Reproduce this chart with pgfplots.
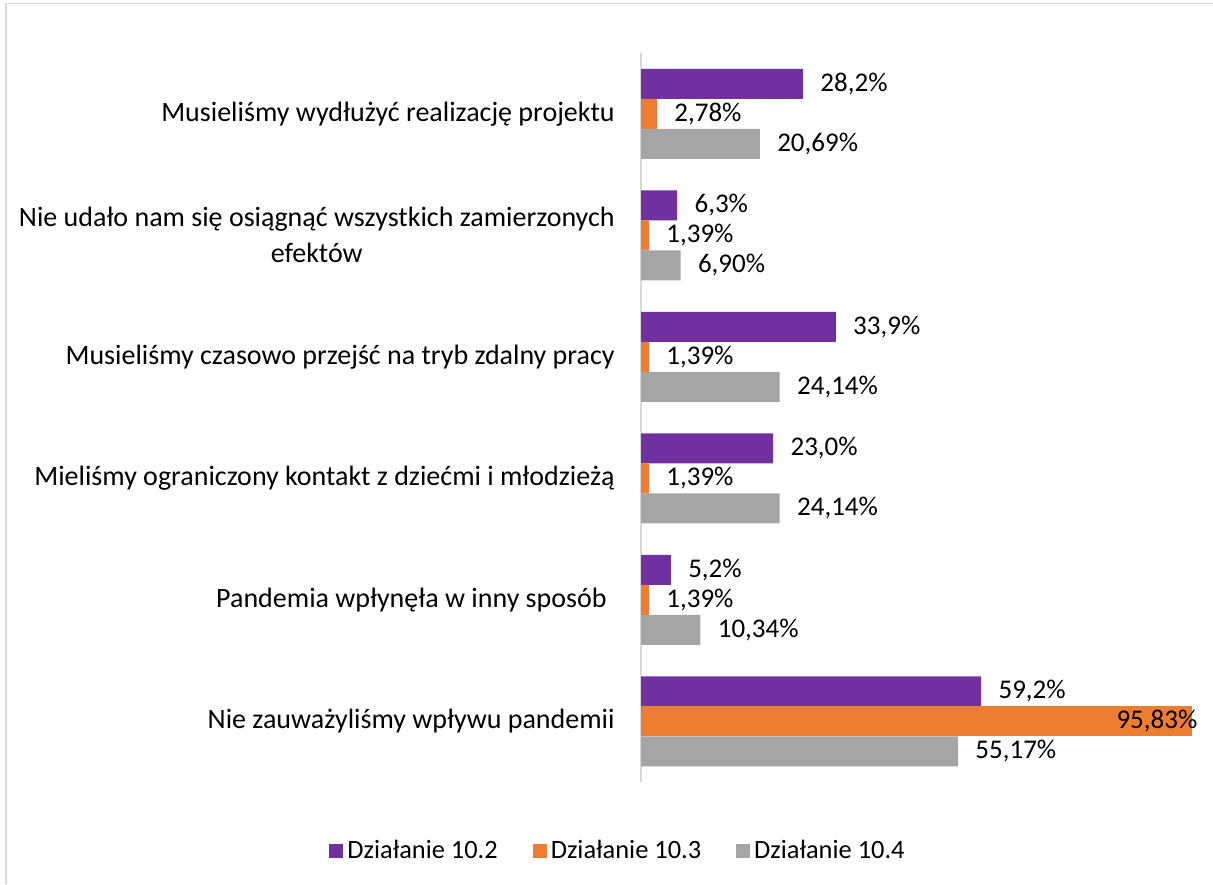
\documentclass[border=0pt]{standalone}
\usepackage{pgfplots}
\pgfplotsset{compat=1.18}
\usepackage{fontspec}
\setmainfont{Carlito}
\definecolor{cpurple}{HTML}{7030A0}
\definecolor{corange}{HTML}{ED7D31}
\definecolor{cgray}{HTML}{A5A5A5}
\definecolor{caxis}{HTML}{D9D9D9}
\begin{document}
\begin{tikzpicture}[x=1pt,y=1pt]
\useasboundingbox (0,0) rectangle (606.5,-442);
\draw[color=caxis, line width=0.9pt] (3,-442) -- (3,-1.75) -- (606.5,-1.75);
\begin{axis}[
  at={(320.5pt,-26.5pt)}, anchor=north west,
  width=277pt, height=364.5pt, scale only axis,
  xbar, bar width=15pt,
  xmin=0, xmax=96.4, ymin=-0.5, ymax=5.5,
  axis x line=none, axis y line*=left,
  y axis line style={draw=caxis, line width=1pt, -},
  ytick={0,1,2,3,4,5},
  yticklabels={Nie zauważyliśmy wpływu pandemii,
    {Pandemia wpłynęła w inny sposób\hspace{4pt}},
    Mieliśmy ograniczony kontakt z dziećmi i młodzieżą,
    Musieliśmy czasowo przejść na tryb zdalny pracy,
    {Nie udało nam się osiągnąć wszystkich zamierzonych\hspace{2pt}\\efektów},
    Musieliśmy wydłużyć realizację projektu},
  ytick style={draw=none},
  major tick length=0pt,
  yticklabel style={align=center, inner sep=0pt, xshift=-13pt, font=\fontsize{14pt}{18pt}\selectfont, text=black},
  point meta=explicit symbolic,
  nodes near coords,
  every node near coord/.append style={anchor=west, inner sep=0pt, xshift=8.5pt, font=\fontsize{13.5pt}{15pt}\selectfont, text=black},
  legend columns=3,
  legend style={at={(-0.0397,-0.0947)}, anchor=center, draw=none, fill=none,
    font=\fontsize{13.2pt}{15pt}\selectfont,
    /tikz/every even column/.append style={column sep=15.5pt}},
  myleg/.style={legend image code/.code={\fill[##1] (-2pt,-3.5pt) rectangle (5pt,3.5pt);}},
]
\addplot[fill=cpurple, draw=none, bar shift=15pt, myleg] coordinates {
  (28.2,5) [28,2\%]
  (6.3,4) [6,3\%]
  (33.9,3) [33,9\%]
  (23.0,2) [23,0\%]
  (5.2,1) [5,2\%]
  (59.2,0) [59,2\%]
};
\addplot[fill=corange, draw=none, bar shift=0pt, myleg] coordinates {
  (2.78,5) [2,78\%]
  (1.39,4) [1,39\%]
  (1.39,3) [1,39\%]
  (1.39,2) [1,39\%]
  (1.39,1) [1,39\%]
};
\addplot[fill=cgray, draw=none, bar shift=-15pt, myleg] coordinates {
  (20.69,5) [20,69\%]
  (6.90,4) [6,90\%]
  (24.14,3) [24,14\%]
  (24.14,2) [24,14\%]
  (10.34,1) [10,34\%]
  (55.17,0) [55,17\%]
};
\addplot[fill=corange, draw=none, bar shift=0pt, forget plot,
  every node near coord/.append style={anchor=east, xshift=-5.5pt}] coordinates {
  (95.83,0) [95,83\%]
};
\legend{Działanie 10.2, Działanie 10.3, Działanie 10.4}
\end{axis}
\end{tikzpicture}
\end{document}
